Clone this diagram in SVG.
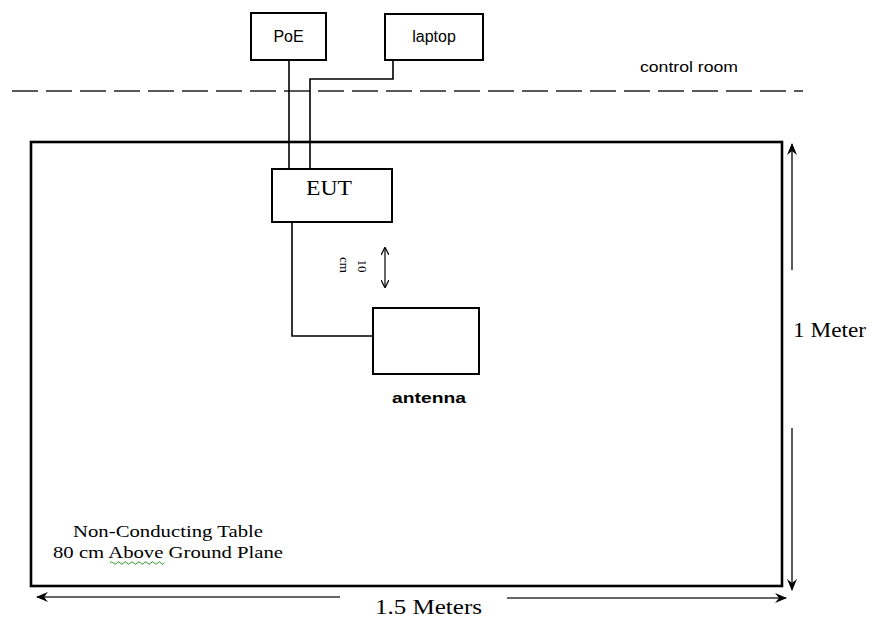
<svg xmlns="http://www.w3.org/2000/svg" width="872" height="618" viewBox="0 0 872 618">
<defs>
<style>
.box{fill:#fff;stroke:#000;stroke-width:2}
.wire{fill:none;stroke:#000;stroke-width:1.6}
.dim{fill:none;stroke:#333;stroke-width:1.6}
.sans{font-family:"Liberation Sans",Arial,sans-serif;fill:#000}
.serif{font-family:"Liberation Serif","Times New Roman",serif;fill:#000}
</style>
<marker id="ah" viewBox="0 0 12 10" refX="11" refY="5" markerWidth="12" markerHeight="10" markerUnits="userSpaceOnUse" orient="auto-start-reverse">
<path d="M0,0 L12,5 L0,10 L4,5 Z" fill="#000"/>
</marker>
<marker id="ahs" viewBox="0 0 10 10" refX="9" refY="5" markerWidth="8" markerHeight="8" markerUnits="userSpaceOnUse" orient="auto-start-reverse">
<path d="M0,0 L10,5 L0,10" fill="none" stroke="#000" stroke-width="1.5"/>
</marker>
</defs>
<rect width="872" height="618" fill="#fff"/>

<g id="control-room-boundary">
<line x1="12" y1="91" x2="803" y2="91" stroke="#222" stroke-width="1.6" stroke-dasharray="26 8"/>
<text class="sans" x="640" y="72" font-size="15" textLength="98" lengthAdjust="spacingAndGlyphs">control room</text>
</g>

<g id="table">
<rect x="31" y="142" width="751" height="444" fill="none" stroke="#000" stroke-width="2.6"/>
<rect x="153" y="141" width="2" height="2" fill="#000"/>
<rect x="196" y="141" width="2" height="2" fill="#000"/>
<text class="serif" x="168" y="537" font-size="17" text-anchor="middle" textLength="190" lengthAdjust="spacingAndGlyphs">Non-Conducting Table</text>
<text class="serif" x="168" y="558" font-size="17" text-anchor="middle" textLength="230" lengthAdjust="spacingAndGlyphs">80 cm Above Ground Plane</text>
<path d="M110,563 q1.7,-2.5 3.4,0 t3.4,0 t3.4,0 t3.4,0 t3.4,0 t3.4,0 t3.4,0 t3.4,0 t3.4,0 t3.4,0 t3.4,0 t3.4,0 t3.4,0 t3.4,0 t3.4,0 t3.4,0" fill="none" stroke="#2a9a2a" stroke-width="1"/>
</g>

<g id="connectors">
<polyline class="wire" points="289,60 289,169"/>
<polyline class="wire" points="393,60 393,79 310,79 310,169"/>
<polyline class="wire" points="292,222 292,336 373,336"/>
</g>

<g id="poe">
<rect class="box" x="251" y="13" width="75" height="47"/>
<text class="sans" x="288.5" y="42" font-size="16" text-anchor="middle">PoE</text>
</g>

<g id="laptop">
<rect class="box" x="385" y="14" width="98" height="46"/>
<text class="sans" x="434" y="42" font-size="16" text-anchor="middle">laptop</text>
</g>

<g id="eut">
<rect class="box" x="272" y="169" width="120" height="53"/>
<text class="serif" x="329" y="195" font-size="22" text-anchor="middle" textLength="46" lengthAdjust="spacingAndGlyphs">EUT</text>
</g>

<g id="antenna">
<rect class="box" x="373" y="308" width="106" height="66"/>
<text class="sans" x="429" y="403" font-size="15" font-weight="bold" text-anchor="middle" textLength="74" lengthAdjust="spacingAndGlyphs">antenna</text>
</g>

<g id="spacing-10cm">
<line x1="385" y1="248" x2="385" y2="287" stroke="#000" stroke-width="1.2" marker-start="url(#ahs)" marker-end="url(#ahs)"/>
<text class="serif" font-size="13" text-anchor="middle" transform="translate(358,266) rotate(90)">10</text>
<text class="serif" font-size="13" text-anchor="middle" transform="translate(340,265) rotate(90)">cm</text>
</g>

<g id="dim-height">
<line class="dim" x1="792" y1="270" x2="792" y2="144" marker-end="url(#ah)"/>
<line class="dim" x1="792" y1="428" x2="792" y2="590" marker-end="url(#ah)"/>
<text class="serif" x="793" y="337" font-size="20" textLength="73" lengthAdjust="spacingAndGlyphs">1 Meter</text>
</g>

<g id="dim-width">
<line class="dim" x1="340" y1="597" x2="37" y2="597" marker-end="url(#ah)"/>
<line class="dim" x1="507" y1="598" x2="786" y2="598" marker-end="url(#ah)"/>
<text class="serif" x="375" y="614" font-size="21" textLength="107" lengthAdjust="spacingAndGlyphs">1.5 Meters</text>
</g>
</svg>
